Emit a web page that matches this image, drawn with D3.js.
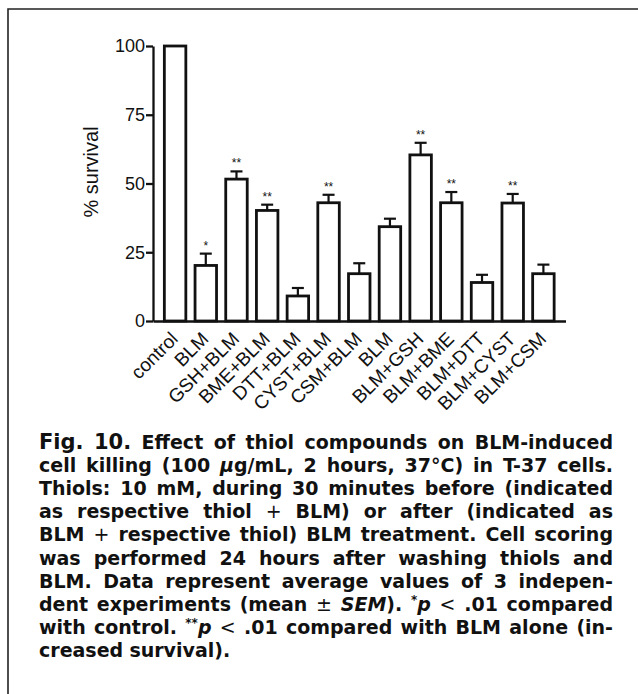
<!DOCTYPE html>
<html>
<head>
<meta charset="utf-8">
<script src="https://cdn.jsdelivr.net/npm/d3@7"></script>
<style>
  body { margin: 0; background: #fff; }
</style>
</head>
<body>
<div id="chart"></div>
<script>
const labels = ["control", "BLM", "GSH+BLM", "BME+BLM", "DTT+BLM", "CYST+BLM", "CSM+BLM",
  "BLM", "BLM+GSH", "BLM+BME", "BLM+DTT", "BLM+CYST", "BLM+CSM"];
const survival = [100, 20.2, 51.6, 40.2, 9.1, 43.0, 17.2, 34.3, 60.4, 43.0, 14.0, 42.9, 17.2];
const sem = [0, 4.3, 2.8, 2.1, 2.9, 2.9, 3.8, 2.9, 4.4, 3.9, 2.8, 3.3, 3.3];
const marks = ["", "*", "**", "**", "", "**", "", "", "**", "**", "", "**", ""];
const yTicks = [0, 25, 50, 75, 100];

// _ italic, ^ superscript, ~ normal weight
const caption = [
  "Fig. 10. Effect of thiol compounds on BLM-induced",
  "cell killing (100 _μ_g/mL, 2 hours, 37°C) in T-37 cells.",
  "Thiols: 10 mM, during 30 minutes before (indicated",
  "as respective thiol ~+~ BLM) or after (indicated as",
  "BLM ~+~ respective thiol) BLM treatment. Cell scoring",
  "was performed 24 hours after washing thiols and",
  "BLM. Data represent average values of 3 indepen-",
  "dent experiments (mean ~±~ _SEM_). ^*^_p_ ~<~ .01 compared",
  "with control. ^**^_p_ ~<~ .01 compared with BLM alone (in-",
  "creased survival)."
];

const width = 638, height = 694;
const ink = "#111";

const svg = d3.select("#chart").append("svg")
  .attr("width", width)
  .attr("height", height);

// frame (left and top edges only are in view)
svg.append("path")
  .attr("d", "M8,694V9H638")
  .attr("fill", "none")
  .attr("stroke", "#222")
  .attr("stroke-width", 1.6);

const x = d3.scaleBand()
  .domain(labels.map((d, i) => i))
  .range([153, 565.5])
  .paddingInner(0.3)
  .paddingOuter(0.37);

const y = d3.scaleLinear()
  .domain([0, 100])
  .range([321, 46]);

// bars
svg.selectAll("rect.bar")
  .data(survival)
  .join("rect")
    .attr("class", "bar")
    .attr("x", (d, i) => x(i))
    .attr("y", d => y(d))
    .attr("width", x.bandwidth())
    .attr("height", d => y(0) - y(d))
    .attr("fill", "#fff")
    .attr("stroke", ink)
    .attr("stroke-width", 2.8);

// error bars (upper half only)
const err = svg.append("g").attr("stroke", ink).attr("stroke-width", 2.2);
survival.forEach((v, i) => {
  if (!sem[i]) return;
  const cx = x(i) + x.bandwidth() / 2;
  err.append("line")
    .attr("x1", cx).attr("x2", cx)
    .attr("y1", y(v)).attr("y2", y(v + sem[i]));
  err.append("line")
    .attr("x1", cx - 6).attr("x2", cx + 6)
    .attr("y1", y(v + sem[i])).attr("y2", y(v + sem[i]));
});

// significance marks
svg.selectAll("text.mark")
  .data(marks)
  .join("text")
    .attr("class", "mark")
    .attr("x", (d, i) => x(i) + x.bandwidth() / 2)
    .attr("y", (d, i) => y(survival[i] + sem[i]) - 4)
    .attr("text-anchor", "middle")
    .attr("font-family", "Liberation Sans, Arial, sans-serif")
    .attr("font-size", 12)
    .attr("fill", ink)
    .text(d => d);

// y axis
const yAxis = svg.append("g")
  .attr("transform", "translate(153,0)")
  .call(d3.axisLeft(y).tickValues(yTicks).tickSize(7).tickSizeOuter(0).tickPadding(1));
yAxis.selectAll("path, line").attr("stroke", ink).attr("stroke-width", 2.3);
yAxis.selectAll("text")
  .attr("font-family", "Liberation Sans, Arial, sans-serif")
  .attr("font-size", 18)
  .attr("fill", ink);

// x axis
const xAxis = svg.append("g")
  .attr("transform", "translate(0,321)")
  .call(d3.axisBottom(x).tickSize(0).tickSizeOuter(0).tickFormat(i => labels[i]));
xAxis.select("path").attr("stroke", ink).attr("stroke-width", 2.3);
xAxis.selectAll("text")
  .attr("y", null)
  .attr("dy", null)
  .attr("text-anchor", "end")
  .attr("transform", "translate(4,19) rotate(-45)")
  .attr("font-family", "Liberation Sans, Arial, sans-serif")
  .attr("font-size", 19)
  .attr("fill", ink);

// y label
svg.append("text")
  .attr("transform", "translate(98,172) rotate(-90)")
  .attr("text-anchor", "middle")
  .attr("font-family", "Liberation Sans, Arial, sans-serif")
  .attr("font-size", 20)
  .attr("fill", ink)
  .text("% survival");

// caption, justified word by word
const capLeft = 39, capRight = 613, capTop = 449, capStep = 23.1, capSize = 19;
const cap = svg.append("g")
  .attr("font-family", "DejaVu Sans, sans-serif")
  .attr("font-weight", "bold")
  .attr("font-size", capSize)
  .attr("fill", ink);

function segments(word) {
  const out = [];
  let cur = "", it = false, sup = false, thin = false;
  const push = () => { if (cur) out.push({ t: cur, it, sup, thin }); cur = ""; };
  for (const ch of word) {
    if (ch === "_") { push(); it = !it; }
    else if (ch === "^") { push(); sup = !sup; }
    else if (ch === "~") { push(); thin = !thin; }
    else cur += ch;
  }
  push();
  return out;
}

caption.forEach((line, li) => {
  const yb = capTop + li * capStep;
  const words = line.split(" ");
  const nodes = words.map((w, wi) => {
    const t = cap.append("text").attr("y", yb);
    if (li === 0 && wi < 2) t.attr("font-size", 21);
    let raised = false;
    segments(w).forEach(s => {
      const ts = t.append("tspan").text(s.t);
      if (s.it) ts.attr("font-style", "italic");
      if (s.thin) ts.attr("font-weight", "normal");
      if (s.sup && !raised) { ts.attr("font-size", 12).attr("dy", -7); raised = true; }
      else if (!s.sup && raised) { ts.attr("dy", 7); raised = false; }
    });
    return t;
  });
  const widths = nodes.map(t => t.node().getComputedTextLength());
  const total = d3.sum(widths);
  const last = li === caption.length - 1;
  const gap = last ? capSize * 0.33 : (capRight - capLeft - total) / (words.length - 1);
  let cx = capLeft;
  nodes.forEach((t, i) => {
    t.attr("x", cx);
    cx += widths[i] + gap;
  });
});
</script>
</body>
</html>
